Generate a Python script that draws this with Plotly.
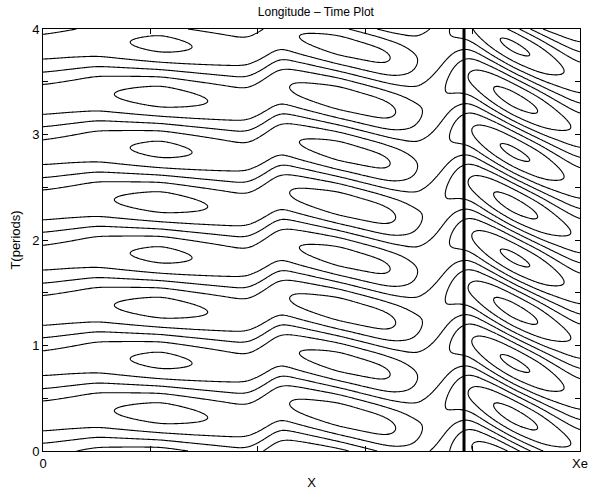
import numpy as np
import plotly.graph_objects as go

# ---- values ----
# amplitude profile of the periodic signal along X (fraction of Xe)
amp_x = [0.0, 0.05, 0.13, 0.22, 0.31, 0.38, 0.44, 0.47, 0.55, 0.63, 0.655, 0.70, 0.73, 0.755, 0.79, 0.84, 0.875, 0.92, 0.96, 1.0]
amp_v = [1.45, 1.55, 1.9, 2.4, 1.9, 1.55, 1.7, 2.05, 2.5, 2.3, 2.0, 1.0, 0.55, 1.0, 1.9, 3.0, 3.3, 3.0, 2.2, 1.7]
# phase (time of maximum, in periods) along X
ph_x = [0.0, 0.1, 0.22, 0.38, 0.41, 0.44, 0.56, 0.65, 0.70, 0.73, 0.76, 0.79, 0.875, 0.95, 1.0]
ph_v = [0.33, 0.39, 0.36, 0.28, 0.36, 0.47, 0.335, 0.22, 0.18, 0.30, 0.52, 0.57, 0.335, 0.15, 0.03]
offset = 0.08
levels = dict(start=-3, end=3, size=1)
x_line = 0.784          # thick vertical marker (fraction of Xe)
y_ticks = [0, 0.5, 1, 1.5, 2, 2.5, 3, 3.5, 4]
y_labels = ["0", "", "1", "", "2", "", "3", "", "4"]
x_ticks = [0, 0.2, 0.4, 0.6, 0.8, 1.0]
x_labels = ["0", "", "", "", "", "Xe"]

# ---- build field ----
xg = np.linspace(0, 1, 321)
tg = np.linspace(0, 4, 641)

def smooth_profile(kx, kv, sigma=0.012):
    fine = np.linspace(-0.1, 1.1, 1201)
    v = np.interp(fine, kx, kv)
    dx = fine[1] - fine[0]
    k = np.arange(-60, 61) * dx
    ker = np.exp(-0.5 * (k / sigma) ** 2)
    ker /= ker.sum()
    vs = np.convolve(np.pad(v, 60, mode="edge"), ker, mode="same")[60:-60]
    return np.interp(xg, fine, vs)

A = smooth_profile(amp_x, amp_v)
P = smooth_profile(ph_x, ph_v)
X, T = np.meshgrid(xg, tg)
Z = A[None, :] * np.cos(2 * np.pi * (T - P[None, :])) + offset
Z = np.round(Z, 4)

fig = go.Figure()
fig.add_trace(go.Contour(
    x=xg, y=tg, z=Z,
    contours=dict(coloring="lines", **levels),
    colorscale=[[0, "black"], [1, "black"]],
    line=dict(width=1.1, color="black"),
    showscale=False, hoverinfo="skip",
))
fig.add_trace(go.Scatter(x=[x_line, x_line], y=[0, 4], mode="lines",
                         line=dict(color="black", width=3), hoverinfo="skip",
                         showlegend=False))

font = "Liberation Sans, Arial, Helvetica, sans-serif"
fig.update_layout(
    width=596, height=496,
    margin=dict(l=43, r=8, t=29, b=40),
    paper_bgcolor="white", plot_bgcolor="white",
    showlegend=False,
    title=dict(text="Longitude \u2013 Time Plot", x=0.53, xanchor="center",
               y=0.985, yanchor="top", font=dict(family=font, size=12, color="black")),
    font=dict(family=font, size=13, color="black"),
)
fig.update_xaxes(range=[0, 1], tickvals=x_ticks, ticktext=x_labels,
                 ticks="inside", ticklen=5, tickcolor="black",
                 showline=True, linecolor="black", linewidth=1, mirror="ticks",
                 showgrid=False, zeroline=False,
                 title=dict(text="X", font=dict(family=font, size=13), standoff=8))
fig.update_yaxes(range=[0, 4], tickvals=y_ticks, ticktext=y_labels,
                 ticks="inside", ticklen=5, tickcolor="black",
                 showline=True, linecolor="black", linewidth=1, mirror="ticks",
                 showgrid=False, zeroline=False,
                 title=dict(text="T(periods)", font=dict(family=font, size=13), standoff=8))

fig.write_html("out.html")
